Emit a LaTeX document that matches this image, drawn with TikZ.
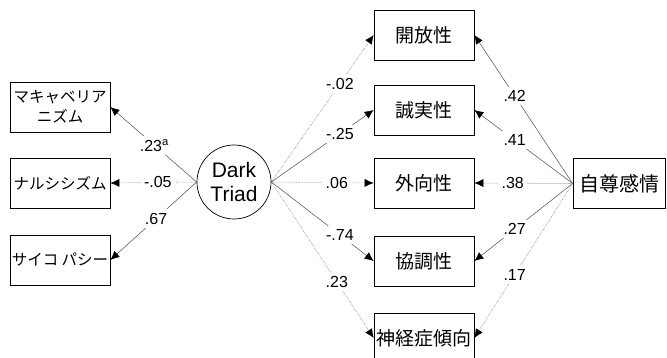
\documentclass[tikz,border=0pt]{standalone}
\usepackage{fontspec}
\setmainfont{Liberation Sans}
\newfontfamily\jp{Noto Sans CJK JP}
\usetikzlibrary{arrows.meta}
\begin{document}
\begin{tikzpicture}[x=1pt,y=-1pt,
  box/.style={draw=black, line width=0.7pt, minimum width=100pt, minimum height=50pt, inner sep=0pt, align=center},
  lbox/.style={box, font=\jp\fontsize{15.5}{20}\selectfont},
  rbox/.style={box, font=\jp\fontsize{19}{21}\selectfont},
  lat/.style={draw=black, circle, line width=0.7pt, minimum size=74pt, inner sep=0pt, align=center, font=\fontsize{21}{24}\selectfont},
  conn/.style={draw=gray!70!black, line width=0.55pt, -{Latex[length=9pt,width=8pt,color=black]}},
  conndot/.style={conn, draw=gray!90!black, densely dotted},
  lab/.style={fill=white, inner sep=3.5pt, font=\fontsize{16}{18}\selectfont}]
\useasboundingbox (0,0) rectangle (667,358);
\clip (0,0) rectangle (667,358);

% left observed
\node[lbox] (mach) at (60,107) {マキャベリア\\ニズム};
\node[lbox] (nar)  at (60,183) {ナルシシズム};
\node[lbox] (psy)  at (60,260) {サイコ パシー};

% latent
\node[lat] (dt) at (234,182) {Dark\\Triad};

% middle (Big Five)
\node[rbox] (open)  at (424,35)  {開放性};
\node[rbox] (cons)  at (424,110) {誠実性};
\node[rbox] (extra) at (424,183) {外向性};
\node[rbox] (agree) at (424,261) {協調性};
\node[rbox] (neuro) at (424,338) {神経症傾向};

% self-esteem
\node[box, minimum width=92pt, font=\jp\fontsize{20}{22}\selectfont] (se) at (619,183.5) {自尊感情};

% Dark Triad -> facets
\draw[conn]    (dt.west) -- node[lab,pos=0.49] (l1) {.23\textsuperscript{a}} (mach.east);
\draw[conndot] (dt.west) -- node[lab,pos=0.45] (l2) {-.05} (nar.east);
\draw[conn]    (dt.west) -- node[lab,pos=0.47] (l3) {.67} (psy.east);

% Dark Triad -> Big Five
\draw[conndot] (dt.east) -- node[lab,pos=0.67] (r1) {-.02} (open.west);
\draw[conn]    (dt.east) -- node[lab,pos=0.67] (r2) {-.25} (cons.west);
\draw[conndot] (dt.east) -- node[lab,pos=0.64] (r3) {.06} (extra.west);
\draw[conn]    (dt.east) -- node[lab,pos=0.67] (r4) {-.74} (agree.west);
\draw[conndot] (dt.east) -- node[lab,pos=0.64] (r5) {.23} (neuro.west);

% Self-esteem -> Big Five
\draw[conn]    (se.west) -- node[lab,pos=0.59] (s1) {.42} (open.east);
\draw[conn]    (se.west) -- node[lab,pos=0.59] (s2) {.41} (cons.east);
\draw[conn, draw=gray!55] (se.west) -- node[lab,pos=0.61] (s3) {.38} (extra.east);
\draw[conn]    (se.west) -- node[lab,pos=0.59] (s4) {.27} (agree.east);
\draw[conndot] (se.west) -- node[lab,pos=0.59] (s5) {.17} (neuro.east);
\end{tikzpicture}
\end{document}
